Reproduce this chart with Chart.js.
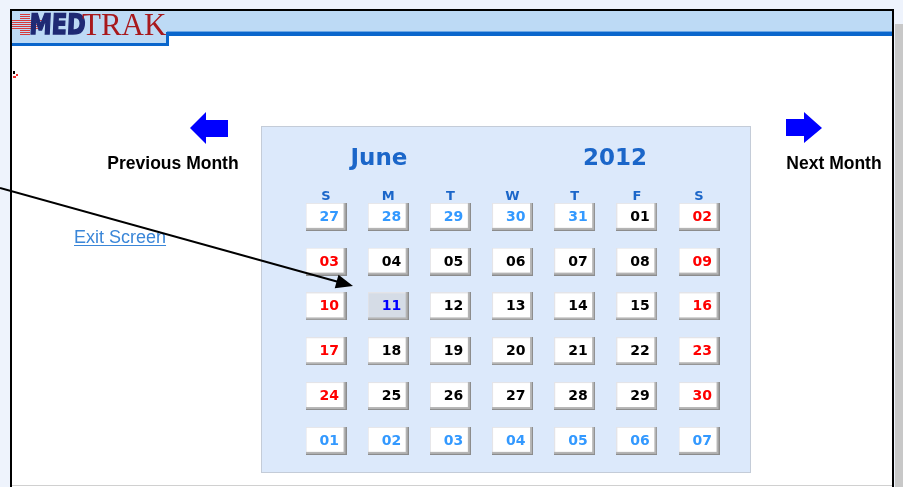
<!DOCTYPE html>
<html>
<head>
<meta charset="utf-8">
<script src="https://cdn.jsdelivr.net/npm/chart.js@4.4.1/dist/chart.umd.min.js"></script>
<style>
  html, body { margin: 0; padding: 0; background: #fff; }
  #cal { display: block; }
</style>
</head>
<body>
<canvas id="cal" width="903" height="487"></canvas>
<script>
// calendar data
const monthName = "June";
const yearLabel = "2012";
const weekdayLabels = ["S", "M", "T", "W", "T", "F", "S"];
const dayNumbers = [
    "27", "28", "29", "30", "31", "01", "02",
    "03", "04", "05", "06", "07", "08", "09",
    "10", "11", "12", "13", "14", "15", "16",
    "17", "18", "19", "20", "21", "22", "23",
    "24", "25", "26", "27", "28", "29", "30",
    "01", "02", "03", "04", "05", "06", "07",
];
const firstInMonth = 5;
const lastInMonth = 34;
const selectedIndex = 15;

const colors = {
    other: "#3399ff",
    weekday: "#000000",
    weekend: "#ff0000",
    selected: "#0000ff",
    title: "#1b66c9",
};

function dayColor(i) {
    if (i === selectedIndex) return colors.selected;
    if (i < firstInMonth || i > lastInMonth) return colors.other;
    const col = i % 7;
    return col === 0 || col === 6 ? colors.weekend : colors.weekday;
}

// button look for each day cell
function makeButton(face) {
    const c = document.createElement("canvas");
    c.width = 41;
    c.height = 28;
    const g = c.getContext("2d");
    g.fillStyle = "#8c8c8c";
    g.fillRect(0, 0, 41, 28);
    g.fillStyle = "#b4b4b4";
    g.fillRect(0, 0, 40, 27);
    g.fillStyle = "#e4e4e8";
    g.fillRect(0, 0, 38, 25);
    g.fillStyle = face;
    g.fillRect(1, 1, 37, 24);
    return c;
}
const btnNormal = makeButton("#ffffff");
const btnSelected = makeButton("#d5dce6");

const points = dayNumbers.map((d, i) => ({ x: i % 7, y: Math.floor(i / 7) }));

const pagePlugin = {
    id: "page",
    beforeDraw(chart) {
        const ctx = chart.ctx;
        ctx.save();
        // outside
        ctx.fillStyle = "#eef3fc";
        ctx.fillRect(0, 0, 903, 487);
        ctx.fillStyle = "#ffffff";
        ctx.fillRect(11, 10, 882, 477);
        ctx.fillStyle = "#c8c8c8";
        ctx.fillRect(895, 24, 8, 463);
        // header band
        ctx.fillStyle = "#bddaf5";
        ctx.fillRect(11, 10, 882, 23);
        ctx.fillRect(11, 33, 156, 11);
        ctx.fillStyle = "#0a66cc";
        ctx.fillRect(167, 32, 726, 4);
        ctx.fillRect(166, 32, 3, 14);
        ctx.fillRect(11, 43, 157, 3);
        ctx.fillStyle = "#6aa6e6";
        ctx.fillRect(167, 31, 726, 1);
        // window frame
        ctx.strokeStyle = "#000";
        ctx.lineWidth = 2;
        ctx.beginPath();
        ctx.moveTo(11, 487);
        ctx.lineTo(11, 10);
        ctx.lineTo(893, 10);
        ctx.lineTo(893, 487);
        ctx.stroke();
        ctx.fillStyle = "#d0d0d0";
        ctx.fillRect(12, 485, 880, 1);

        // logo
        drawLogo(ctx);

        // tiny mark
        ctx.fillStyle = "#000";
        ctx.fillRect(13, 71, 2, 3);
        ctx.fillStyle = "#ee3030";
        ctx.fillRect(13, 76, 3, 2);
        ctx.fillRect(16, 74, 2, 2);

        // calendar panel
        ctx.fillStyle = "#dce9fb";
        ctx.fillRect(261, 126, 490, 347);
        ctx.strokeStyle = "#c4ccd8";
        ctx.lineWidth = 1;
        ctx.strokeRect(261.5, 126.5, 489, 346);

        // month and year
        ctx.fillStyle = colors.title;
        ctx.font = "bold 23px 'DejaVu Sans'";
        ctx.textAlign = "center";
        ctx.textBaseline = "alphabetic";
        ctx.fillText(monthName, 379, 165);
        ctx.fillText(yearLabel, 615, 165);

        // weekday letters from the x scale
        const xs = chart.scales.x;
        const ys = chart.scales.y;
        ctx.font = "bold 13px 'DejaVu Sans'";
        weekdayLabels.forEach((w, i) => {
            ctx.fillText(w, xs.getPixelForValue(i), ys.getPixelForValue(0) - 17);
        });

        // navigation arrows
        ctx.fillStyle = "#0000ff";
        ctx.beginPath();
        ctx.moveTo(190, 128);
        ctx.lineTo(206, 112);
        ctx.lineTo(206, 120);
        ctx.lineTo(228, 120);
        ctx.lineTo(228, 137);
        ctx.lineTo(206, 137);
        ctx.lineTo(206, 144);
        ctx.closePath();
        ctx.fill();
        ctx.beginPath();
        ctx.moveTo(822, 128);
        ctx.lineTo(804, 112);
        ctx.lineTo(804, 119);
        ctx.lineTo(786, 119);
        ctx.lineTo(786, 136);
        ctx.lineTo(804, 136);
        ctx.lineTo(804, 143);
        ctx.closePath();
        ctx.fill();

        ctx.fillStyle = "#000";
        ctx.font = "bold 17.5px 'Liberation Sans'";
        ctx.textAlign = "center";
        ctx.fillText("Previous Month", 173, 169);
        ctx.fillText("Next Month", 834, 169);

        // exit link
        ctx.fillStyle = "#3a86d8";
        ctx.font = "18px 'Liberation Sans'";
        ctx.textAlign = "left";
        ctx.fillText("Exit Screen", 74, 243);
        const w = ctx.measureText("Exit Screen").width;
        ctx.fillRect(74, 245, w, 1);
        ctx.restore();
    },
    afterDatasetsDraw(chart) {
        const ctx = chart.ctx;
        const meta = chart.getDatasetMeta(0);
        ctx.save();
        ctx.font = "bold 14px 'DejaVu Sans'";
        ctx.textAlign = "right";
        ctx.textBaseline = "alphabetic";
        meta.data.forEach((pt, i) => {
            ctx.fillStyle = dayColor(i);
            ctx.fillText(dayNumbers[i], pt.x + 13, pt.y + 4);
        });

        // pointer arrow
        ctx.strokeStyle = "#000";
        ctx.fillStyle = "#000";
        ctx.lineWidth = 2;
        const x0 = 0, y0 = 188, x1 = 353, y1 = 286;
        const a = Math.atan2(y1 - y0, x1 - x0);
        ctx.beginPath();
        ctx.moveTo(x0, y0);
        ctx.lineTo(x1 - 14 * Math.cos(a), y1 - 14 * Math.sin(a));
        ctx.stroke();
        ctx.beginPath();
        ctx.moveTo(x1, y1);
        ctx.lineTo(x1 - 17 * Math.cos(a) + 7 * Math.sin(a), y1 - 17 * Math.sin(a) - 7 * Math.cos(a));
        ctx.lineTo(x1 - 17 * Math.cos(a) - 7 * Math.sin(a), y1 - 17 * Math.sin(a) + 7 * Math.cos(a));
        ctx.closePath();
        ctx.fill();
        ctx.restore();
    },
};

function drawLogo(ctx) {
    // striped red cross
    ctx.fillStyle = "#d83a3a";
    for (let y = 14; y < 35; y += 2) {
        const inBar = y >= 19 && y <= 29;
        if (inBar) ctx.fillRect(12, y, 30, 1);
        else ctx.fillRect(20, y, 10, 1);
    }
    ctx.save();
    ctx.fillStyle = "#1f2a74";
    ctx.strokeStyle = "#1f2a74";
    ctx.lineWidth = 1.5;
    ctx.font = "bold 28px 'DejaVu Sans'";
    ctx.textAlign = "left";
    ctx.translate(29, 34);
    ctx.transform(0.8, 0, -0.05, 1, 0, 0);
    ctx.fillText("MED", 0, 0);
    ctx.strokeText("MED", 0, 0);
    ctx.restore();
    ctx.fillStyle = "#a8191d";
    ctx.font = "31px 'Liberation Serif'";
    ctx.textAlign = "left";
    ctx.fillText("TRAK", 82, 35);
}

new Chart(document.getElementById("cal"), {
    type: "scatter",
    data: {
        datasets: [
            {
                label: "days",
                data: points,
                pointStyle: (c) => (c.dataIndex === selectedIndex ? btnSelected : btnNormal),
                pointRadius: 10,
            },
        ],
    },
    plugins: [pagePlugin],
    options: {
        responsive: false,
        animation: false,
        events: [],
        layout: { padding: 0, autoPadding: false },
        plugins: { legend: { display: false }, tooltip: { enabled: false } },
        scales: {
            x: { type: "linear", display: false, min: -5.244, max: 9.281 },
            y: { type: "linear", display: false, reverse: true, min: -4.84, max: 6.031 },
        },
    },
});
</script>
</body>
</html>
